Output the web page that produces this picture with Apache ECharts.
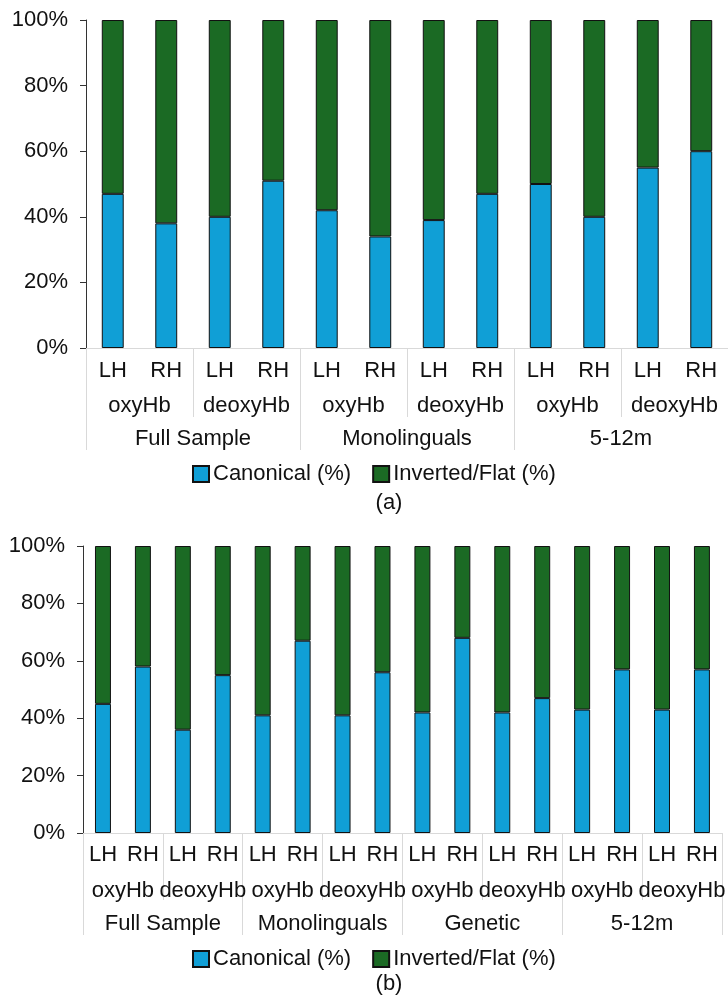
<!DOCTYPE html>
<html>
<head>
<meta charset="utf-8">
<script src="https://cdn.jsdelivr.net/npm/echarts@6/dist/echarts.min.js"></script>
<style>
  html, body { margin: 0; padding: 0; background: #ffffff; }
  #chart { width: 728px; height: 1000px; }
</style>
</head>
<body>
<div id="chart"></div>
<script>
// Panel (a): hemisphere / chromophore / sample groups
const hemiA = ['LH', 'RH', 'LH', 'RH', 'LH', 'RH', 'LH', 'RH', 'LH', 'RH', 'LH', 'RH'];
const chromA = ['oxyHb', 'deoxyHb', 'oxyHb', 'deoxyHb', 'oxyHb', 'deoxyHb'];
const groupsA = ['Full Sample', 'Monolinguals', '5-12m'];
const canonicalA = [47, 38, 40, 51, 42, 34, 39, 47, 50, 40, 55, 60];
const invertedA = [53, 62, 60, 49, 58, 66, 61, 53, 50, 60, 45, 40];

// Panel (b)
const hemiB = ['LH', 'RH', 'LH', 'RH', 'LH', 'RH', 'LH', 'RH', 'LH', 'RH', 'LH', 'RH', 'LH', 'RH', 'LH', 'RH'];
const chromB = ['oxyHb', 'deoxyHb', 'oxyHb', 'deoxyHb', 'oxyHb', 'deoxyHb', 'oxyHb', 'deoxyHb'];
const groupsB = ['Full Sample', 'Monolinguals', 'Genetic', '5-12m'];
const canonicalB = [45, 58, 36, 55, 41, 67, 41, 56, 42, 68, 42, 47, 43, 57, 43, 57];
const invertedB = [55, 42, 64, 45, 59, 33, 59, 44, 58, 32, 58, 53, 57, 43, 57, 43];

const yTicks = [0, 20, 40, 60, 80, 100];

const FONT = "'Liberation Sans', Arial, Helvetica, sans-serif";
const TEXT = '#111111';
const FS = 22;
const BLUE = '#109fd6';
const GREEN = '#1b6a24';
const SEP = '#d9d9d9';

// Three stacked category axes per grid: bar labels, chromophore, sample group.
function levelAxes(gridIndex, hemi, chrom, groups, shortLen, longLen, margins) {
  const base = {
    type: 'category', gridIndex: gridIndex, position: 'bottom', offset: 0,
    axisLabel: { interval: 0, fontSize: FS, fontFamily: FONT, color: TEXT }
  };
  return [
    Object.assign({}, base, {
      data: hemi,
      axisLine: { show: true, lineStyle: { color: SEP, width: 1 } },
      axisTick: { show: false },
      axisLabel: Object.assign({}, base.axisLabel, { margin: margins[0] })
    }),
    Object.assign({}, base, {
      data: chrom,
      axisLine: { show: false },
      axisTick: { show: true, length: shortLen, lineStyle: { color: SEP, width: 1 } },
      axisLabel: Object.assign({}, base.axisLabel, { margin: margins[1] })
    }),
    Object.assign({}, base, {
      data: groups,
      axisLine: { show: false },
      axisTick: { show: true, length: longLen, lineStyle: { color: SEP, width: 1 } },
      axisLabel: Object.assign({}, base.axisLabel, { margin: margins[2] })
    })
  ];
}

function valueAxis(gridIndex) {
  return {
    type: 'value', gridIndex: gridIndex,
    min: yTicks[0], max: yTicks[yTicks.length - 1], interval: yTicks[1] - yTicks[0],
    axisLine: { show: true, lineStyle: { color: '#333333', width: 1 } },
    axisTick: { show: true, length: 6, lineStyle: { color: '#333333', width: 1 } },
    splitLine: { show: false },
    axisLabel: { formatter: '{value}%', fontSize: FS, fontFamily: FONT, color: TEXT, margin: 18 }
  };
}

function barPair(xIdx, yIdx, stack, can, inv, width) {
  const border = { borderColor: '#111111', borderWidth: 1 };
  return [
    { name: 'Canonical (%)', type: 'bar', stack: stack, xAxisIndex: xIdx, yAxisIndex: yIdx,
      barWidth: width, data: can, itemStyle: Object.assign({ color: BLUE }, border) },
    { name: 'Inverted/Flat (%)', type: 'bar', stack: stack, xAxisIndex: xIdx, yAxisIndex: yIdx,
      barWidth: width, data: inv, itemStyle: Object.assign({ color: GREEN }, border) }
  ];
}

function legendAt(top) {
  return {
    top: top, left: 192, padding: 0,
    icon: 'rect', itemWidth: 16, itemHeight: 16, itemGap: 21,
    data: ['Canonical (%)', 'Inverted/Flat (%)'],
    textStyle: { fontSize: FS, fontFamily: FONT, color: TEXT, padding: [0, 0, 0, -1] },
    selectedMode: false
  };
}

const chart = echarts.init(document.getElementById('chart'), null, { renderer: 'canvas' });

chart.setOption({
  animation: false,
  backgroundColor: '#ffffff',
  title: [
    { text: '(a)', left: 389, top: 492, padding: 0, textAlign: 'center',
      textStyle: { fontSize: FS, fontWeight: 'normal', fontFamily: FONT, color: TEXT } },
    { text: '(b)', left: 389, top: 973, padding: 0, textAlign: 'center',
      textStyle: { fontSize: FS, fontWeight: 'normal', fontFamily: FONT, color: TEXT } }
  ],
  legend: [legendAt(463), legendAt(948)],
  grid: [
    { left: 86, top: 20, right: 0, height: 328, containLabel: false },
    { left: 83, top: 546, right: 0, height: 287, containLabel: false }
  ],
  xAxis: levelAxes(0, hemiA, chromA, groupsA, 69, 102, [12, 47, 80])
    .concat(levelAxes(1, hemiB, chromB, groupsB, 67, 102, [11, 47, 80])),
  yAxis: [valueAxis(0), valueAxis(1)],
  series: barPair(0, 0, 'a', canonicalA, invertedA, '41%')
    .concat(barPair(3, 1, 'b', canonicalB, invertedB, '40%'))
});
</script>
</body>
</html>
